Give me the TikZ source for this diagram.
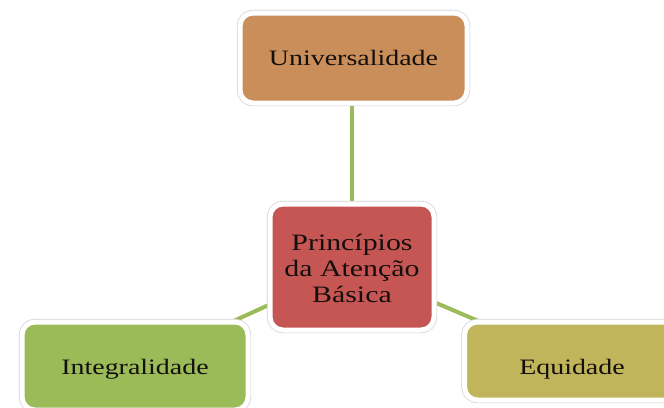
\documentclass[tikz,border=0pt]{standalone}
\usepackage{fontspec}
\setmainfont{Liberation Serif}[FakeStretch=1.27]
\definecolor{conncol}{HTML}{9BBB59}
\definecolor{ucol}{HTML}{CA8E5B}
\definecolor{ccol}{HTML}{C55653}
\definecolor{icol}{HTML}{9BBB59}
\definecolor{ecol}{HTML}{C1B55B}
\definecolor{txtcol}{HTML}{140F0C}
\newcommand{\onbase}[2]{\raisebox{#1}[0pt][0pt]{#2}}
\begin{document}
\begin{tikzpicture}[x=1pt,y=-1pt,
  box/.style={rounded corners=13pt, inner sep=0pt, outer sep=0pt,
    draw=white, line width=5pt, text=txtcol, align=center,
    font=\fontsize{22pt}{26pt}\selectfont,
    preaction={draw=black!18, line width=6.4pt}},
  conn/.style={draw=conncol, line width=4pt}]
\useasboundingbox (0,0) rectangle (664,407);
\clip (0,0) rectangle (664,407);
\fill[white] (0,0) rectangle (664,407);
\path (353.5,58) coordinate (pu);
\path (352,267) coordinate (pc);
\path (135,366) coordinate (pi);
\path (572,361) coordinate (pe);
% connectors
\draw[conn] (pc) -- (pc |- pu);
\draw[conn] (pc) -- (pi);
\draw[conn] (pc) -- (pe);
% boxes
\node[box, fill=ucol, minimum width=227pt, minimum height=90pt] (u) at (pu) {\onbase{-7pt}{Universalidade}};
\node[box, fill=ccol, minimum width=164pt, minimum height=126pt,
  font=\fontsize{23.5pt}{26pt}\selectfont] (c) at (pc) {\onbase{17pt}{\begin{tabular}[t]{@{}c@{}}Princípios\\da Atenção\\Básica\end{tabular}}};
\node[box, fill=icol, minimum width=226pt, minimum height=88pt] (i) at (pi) {\onbase{-8pt}{Integralidade}};
\node[box, fill=ecol, minimum width=215pt, minimum height=78pt] (e) at (pe) {\onbase{-13pt}{Equidade}};
\end{tikzpicture}
\end{document}
